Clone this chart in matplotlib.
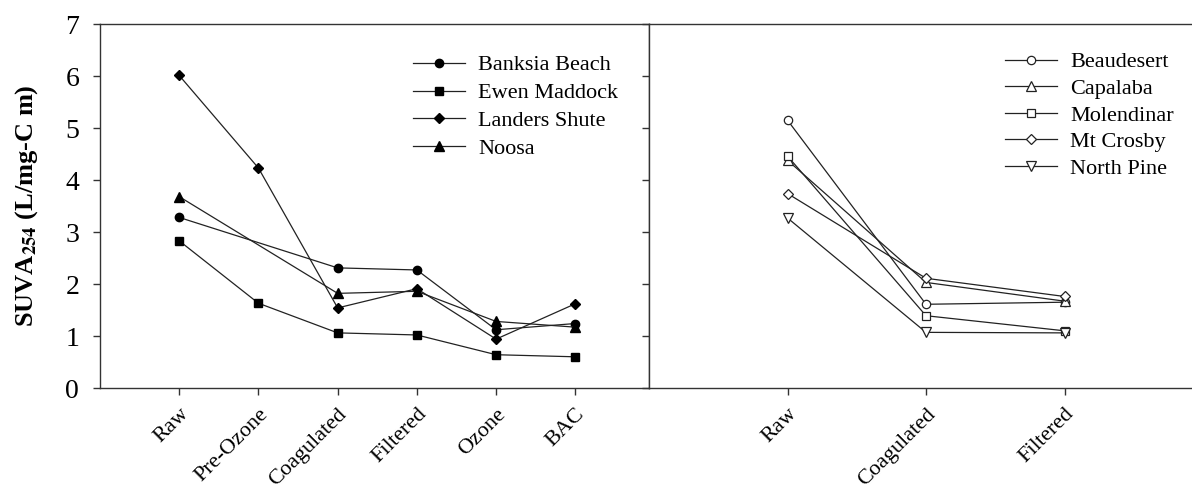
import numpy as np
import matplotlib.pyplot as plt
from matplotlib.transforms import ScaledTranslation

plt.rcParams["font.family"] = ["Liberation Serif", "DejaVu Serif"]
plt.rcParams["mathtext.fontset"] = "stix"

# treatment stages for the two groups of plants
stages_left = ["Raw", "Pre-Ozone", "Coagulated", "Filtered", "Ozone", "BAC"]
stages_right = ["Raw", "Coagulated", "Filtered"]

# SUVA254 values, nan = not sampled at that stage
banksia_beach = [3.28, np.nan, 2.31, 2.27, 1.12, 1.24]
ewen_maddock = [2.83, 1.63, 1.06, 1.02, 0.64, 0.60]
landers_shute = [6.01, 4.23, 1.54, 1.91, 0.94, 1.62]
noosa = [3.68, np.nan, 1.82, 1.86, 1.28, 1.17]

beaudesert = [5.15, 1.61, 1.65]
capalaba = [4.38, 2.03, 1.67]
molendinar = [4.46, 1.39, 1.10]
mt_crosby = [3.74, 2.11, 1.76]
north_pine = [3.27, 1.07, 1.06]

left_series = [
    ("Banksia Beach", banksia_beach, "o"),
    ("Ewen Maddock", ewen_maddock, "s"),
    ("Landers Shute", landers_shute, "D"),
    ("Noosa", noosa, "^"),
]
right_series = [
    ("Beaudesert", beaudesert, "o"),
    ("Capalaba", capalaba, "^"),
    ("Molendinar", molendinar, "s"),
    ("Mt Crosby", mt_crosby, "D"),
    ("North Pine", north_pine, "v"),
]

W, H = 1192, 491
fig = plt.figure(figsize=(W / 100, H / 100), dpi=100)
ax1 = fig.add_axes([100 / W, 103 / H, 549 / W, 364 / H])
ax2 = fig.add_axes([649 / W, 103 / H, 554 / W, 364 / H])

spine_col = "#333333"
line_col = "#222222"
msize = {"o": 6, "s": 6, "D": 5.5, "^": 6.5, "v": 6.5}

for name, vals, m in left_series:
    v = np.array(vals, dtype=float)
    x = np.arange(len(v))
    ok = ~np.isnan(v)
    ax1.plot(x[ok], v[ok], color=line_col, lw=0.9, marker=m, ms=msize[m],
             mfc="black", mec="black", label=name)

for name, vals, m in right_series:
    v = np.array(vals, dtype=float)
    ax2.plot(np.arange(len(v)), v, color=line_col, lw=0.9, marker=m, ms=msize[m],
             mfc="white", mec=line_col, mew=0.9, label=name)

shift = ScaledTranslation(1 / 100, 0, fig.dpi_scale_trans)
for ax, labels in ((ax1, stages_left), (ax2, stages_right)):
    ax.set_ylim(0, 7)
    ax.set_xticks(range(len(labels)))
    ax.set_xticklabels(labels, rotation=45, ha="right", rotation_mode="anchor", fontsize=16)
    for lab in ax.get_xticklabels():
        lab.set_transform(lab.get_transform() + shift)
    for s in ax.spines.values():
        s.set_color(spine_col)
        s.set_linewidth(1.0)
    ax.tick_params(direction="out", length=5, width=1, color=spine_col)
    ax.tick_params(axis="x", pad=7)

ax1.set_xlim(-1, 5.93)
ax2.set_xlim(-1, 3)
ax1.set_yticks(range(8))
ax1.tick_params(axis="y", labelsize=20, pad=10)
ax1.set_ylabel("SUVA$_{\\mathbf{254}}$ (L/mg-C m)", fontsize=19, fontweight="bold")
ax1.yaxis.set_label_coords(-0.11, 0.5)

ax2.spines["right"].set_visible(False)
ax2.set_yticks(range(8))
ax2.tick_params(axis="y", labelleft=False)

leg_kw = dict(frameon=False, fontsize=16, handlelength=2.35, handletextpad=0.6,
              borderaxespad=0)
ax1.legend(loc="upper left", bbox_to_anchor=(304 / 549, 1 - 22 / 364),
           labelspacing=0.33, **leg_kw)
ax2.legend(loc="upper left", bbox_to_anchor=(347 / 554, 1 - 19 / 364),
           labelspacing=0.27, **leg_kw)

fig.savefig("out.png", dpi=100)
